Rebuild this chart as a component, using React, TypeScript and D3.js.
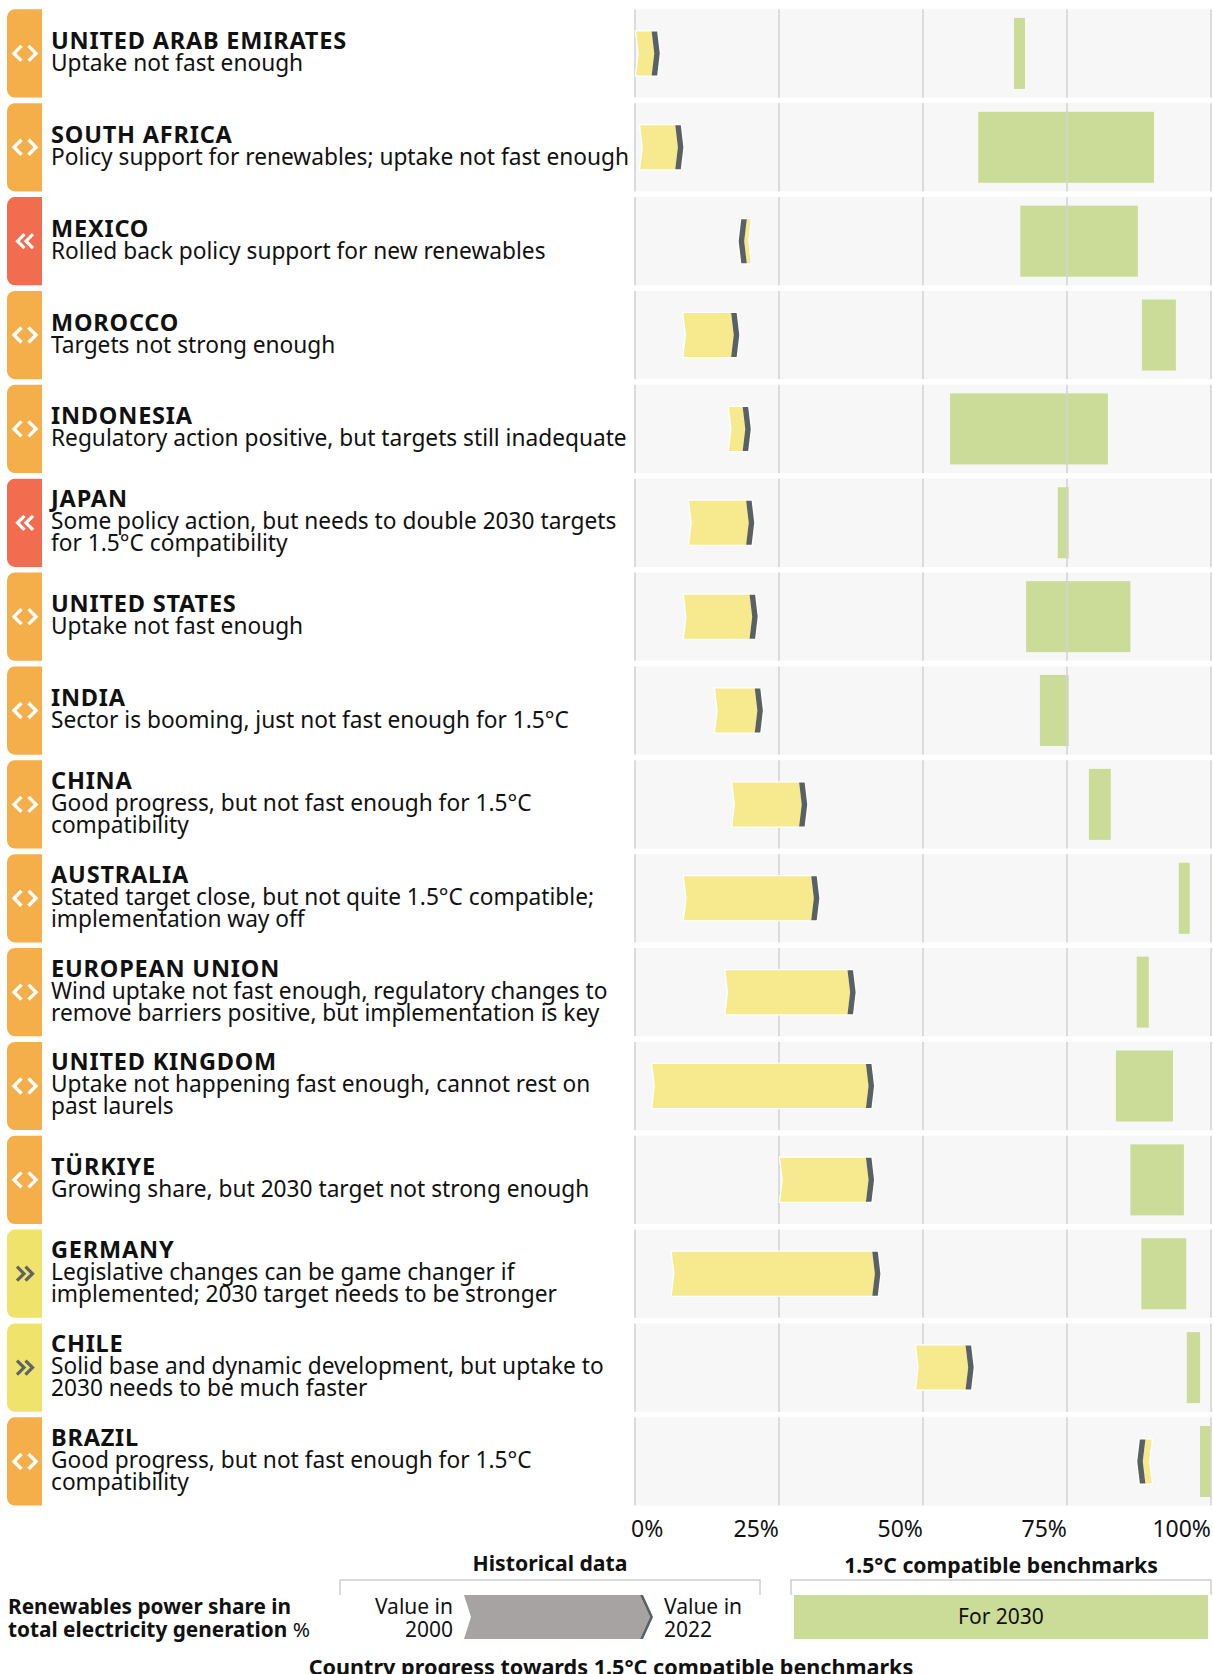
import React from 'react';
import * as d3 from 'd3';

const countries = [
  'UNITED ARAB EMIRATES', 'SOUTH AFRICA', 'MEXICO', 'MOROCCO', 'INDONESIA', 'JAPAN',
  'UNITED STATES', 'INDIA', 'CHINA', 'AUSTRALIA', 'EUROPEAN UNION', 'UNITED KINGDOM',
  'TÜRKIYE', 'GERMANY', 'CHILE', 'BRAZIL',
];

const descriptions = [
  ['Uptake not fast enough'],
  ['Policy support for renewables; uptake not fast enough'],
  ['Rolled back policy support for new renewables'],
  ['Targets not strong enough'],
  ['Regulatory action positive, but targets still inadequate'],
  ['Some policy action, but needs to double 2030 targets', 'for 1.5°C compatibility'],
  ['Uptake not fast enough'],
  ['Sector is booming, just not fast enough for 1.5°C'],
  ['Good progress, but not fast enough for 1.5°C', 'compatibility'],
  ['Stated target close, but not quite 1.5°C compatible;', 'implementation way off'],
  ['Wind uptake not fast enough, regulatory changes to', 'remove barriers positive, but implementation is key'],
  ['Uptake not happening fast enough, cannot rest on', 'past laurels'],
  ['Growing share, but 2030 target not strong enough'],
  ['Legislative changes can be game changer if', 'implemented; 2030 target needs to be stronger'],
  ['Solid base and dynamic development, but uptake to', '2030 needs to be much faster'],
  ['Good progress, but not fast enough for 1.5°C', 'compatibility'],
];

// 'steady' = <>, 'backward' = «, 'forward' = »
const statuses = [
  'steady', 'steady', 'backward', 'steady', 'steady', 'backward',
  'steady', 'steady', 'steady', 'steady', 'steady', 'steady',
  'steady', 'forward', 'forward', 'steady',
];

const share2000 = [0.2, 0.9, 20.1, 8.4, 16.3, 9.4, 8.5, 13.9, 16.9, 8.5, 15.7, 3.0, 25.2, 6.4, 48.8, 89.7];
const share2022 = [4.3, 8.4, 18.0, 18.1, 20.1, 20.7, 21.3, 22.2, 29.9, 32.0, 38.3, 41.5, 41.5, 42.6, 58.8, 87.2];
const bench2030Low = [65.8, 59.6, 66.9, 88.0, 54.7, 73.4, 67.9, 70.3, 78.8, 94.4, 87.1, 83.5, 86.0, 87.9, 95.8, 98.1];
const bench2030High = [67.7, 90.1, 87.3, 93.9, 82.1, 75.3, 86.0, 75.3, 82.6, 96.3, 89.2, 93.4, 95.3, 95.7, 98.1, 100];

const tickValues = [0, 25, 50, 75, 100];
const tickLabels = ['0%', '25%', '50%', '75%', '100%'];

const FONT = '"Noto Sans", "Open Sans", sans-serif';
const COLORS = {
  steady: '#f4ae4a',
  backward: '#f26c4f',
  forward: '#efe36b',
  bar: '#f7e98e',
  band: '#596165',
  bench: '#cbdb98',
  plotBg: '#f7f7f7',
  grid: '#d4d4d4',
  legendGrey: '#a8a3a3',
};

const W = 1213;
const H = 1674;

function arrowPaths(x0: number, x1: number, top: number, bot: number, d: number, w: number) {
  const s = x1 >= x0 ? 1 : -1;
  const mid = (top + bot) / 2;
  const outline = [
    [x0, top], [x1 - s * d, top], [x1, mid], [x1 - s * d, bot], [x0, bot], [x0 + s * d, mid],
  ];
  const body = [
    [x0, top], [x1 - s * (d + w), top], [x1 - s * w, mid], [x1 - s * (d + w), bot], [x0, bot], [x0 + s * d, mid],
  ];
  const band = [
    [x1 - s * (d + w), top], [x1 - s * d, top], [x1, mid], [x1 - s * d, bot], [x1 - s * (d + w), bot], [x1 - s * w, mid],
  ];
  const toPath = (pts: number[][]) => 'M' + pts.map((p) => p.join(',')).join('L') + 'Z';
  return { outline: toPath(outline), body: toPath(body), band: toPath(band) };
}

function badgePath(x0: number, x1: number, top: number, bot: number, r: number) {
  return `M${x1},${top}H${x0 + r}A${r},${r} 0 0 0 ${x0},${top + r}V${bot - r}A${r},${r} 0 0 0 ${x0 + r},${bot}H${x1}Z`;
}

function StatusIcon({ status, cx, cy }: { status: string; cx: number; cy: number }) {
  const h = 7.5;
  if (status === 'steady') {
    return (
      <g fill="none" stroke="#fff" strokeWidth={3.4} strokeLinejoin="miter">
        <path d={`M${cx - 3.5},${cy - h}L${cx - 11},${cy}L${cx - 3.5},${cy + h}`} />
        <path d={`M${cx + 3.5},${cy - h}L${cx + 11},${cy}L${cx + 3.5},${cy + h}`} />
      </g>
    );
  }
  if (status === 'backward') {
    return (
      <g fill="none" stroke="#fff" strokeWidth={3.2} strokeLinejoin="miter">
        <path d={`M${cx - 0.5},${cy - 7}L${cx - 7.5},${cy}L${cx - 0.5},${cy + 7}`} />
        <path d={`M${cx + 8},${cy - 7}L${cx + 1},${cy}L${cx + 8},${cy + 7}`} />
      </g>
    );
  }
  return (
    <g fill="none" stroke="#5d6468" strokeWidth={3.2} strokeLinejoin="miter">
      <path d={`M${cx - 8},${cy - 7}L${cx - 1},${cy}L${cx - 8},${cy + 7}`} />
      <path d={`M${cx + 0.5},${cy - 7}L${cx + 7.5},${cy}L${cx + 0.5},${cy + 7}`} />
    </g>
  );
}

export default function App() {
  const x = d3.scaleLinear().domain([0, 100]).range([635, 1211]);
  const y = d3.scaleBand<string>().domain(countries).range([9.3, 1505.6]).paddingInner(0.06);
  const bw = y.bandwidth();
  const barH = 44;
  const benchH = 71;

  return (
    <div style={{ position: 'absolute', left: 0, top: 0 }}>
      <svg width={W} height={H} viewBox={`0 0 ${W} ${H}`} style={{ display: 'block', fontFamily: FONT }}>
        <rect x={0} y={0} width={W} height={H} fill="#fff" />
        {countries.map((c, i) => {
          const top = y(c) as number;
          const bot = top + bw;
          const cy = top + bw / 2;
          const lines = descriptions[i];
          const n = lines.length + 1;
          const firstBase = top + 50.6 - (n - 1) * 11;
          const st = statuses[i];
          const arrow = arrowPaths(x(share2000[i]), x(share2022[i]), cy - barH / 2, cy + barH / 2, 2.6, 5.5);
          return (
            <g key={c}>
              <path d={badgePath(7, 42, top, bot, 8)} fill={COLORS[st as 'steady']} />
              <StatusIcon status={st} cx={25} cy={cy} />
              <text x={51} y={firstBase} fontSize={23.5} fontWeight={700} letterSpacing={0.8} fill="#111">
                {c}
              </text>
              {lines.map((ln, j) => (
                <text key={j} x={51} y={firstBase + 22 * (j + 1)} fontSize={22.7} fill="#111">
                  {ln}
                </text>
              ))}
              <rect x={x(0)} y={top} width={x(100) - x(0)} height={bw} fill={COLORS.plotBg} />
              <rect
                x={x(bench2030Low[i])}
                y={cy - benchH / 2}
                width={x(bench2030High[i]) - x(bench2030Low[i])}
                height={benchH}
                fill={COLORS.bench}
              />
              {tickValues.map((t) => (
                <line key={t} x1={x(t)} x2={x(t)} y1={top} y2={bot} stroke={COLORS.grid} strokeWidth={1.6} />
              ))}
              <path d={arrow.outline} fill="#fff" stroke="#fff" strokeWidth={2.5} strokeLinejoin="miter" />
              <path d={arrow.body} fill={COLORS.bar} />
              <path d={arrow.band} fill={COLORS.band} />
            </g>
          );
        })}

        {/* axis tick labels */}
        {tickValues.map((t, i) => (
          <text
            key={t}
            x={i === 0 ? x(t) - 4 : x(t)}
            y={1537}
            fontSize={23}
            textAnchor={i === 0 ? 'start' : 'end'}
            fill="#111"
          >
            {tickLabels[i]}
          </text>
        ))}

        {/* legend */}
        <text x={550} y={1571} fontSize={21.2} fontWeight={700} textAnchor="middle" fill="#111">Historical data</text>
        <text x={1001} y={1573} fontSize={21.2} fontWeight={700} textAnchor="middle" fill="#111">1.5°C compatible benchmarks</text>
        <path d="M340,1595V1580H760V1595" fill="none" stroke="#cfcfcf" strokeWidth={1.5} />
        <path d="M791,1595V1580H1211V1595" fill="none" stroke="#cfcfcf" strokeWidth={1.5} />

        <text x={8} y={1614} fontSize={20.8} fontWeight={700} fill="#111">Renewables power share in</text>
        <text x={8} y={1637} fontSize={20.8} fill="#111">
          <tspan fontWeight={700}>total electricity generation</tspan>{'  '}%
        </text>

        <text x={453} y={1614} fontSize={21} textAnchor="end" fill="#111">Value in</text>
        <text x={453} y={1637} fontSize={21} textAnchor="end" fill="#111">2000</text>
        {(() => {
          const top = 1595;
          const bot = 1639;
          const mid = (top + bot) / 2;
          const x0 = 464;
          const x1 = 653;
          const body = `M${x0},${top}L${x1 - 13},${top}L${x1 - 3},${mid}L${x1 - 13},${bot}L${x0},${bot}L${x0 + 7},${mid}Z`;
          const band = `M${x1 - 13},${top}L${x1 - 10},${top}L${x1},${mid}L${x1 - 10},${bot}L${x1 - 13},${bot}L${x1 - 3},${mid}Z`;
          return (
            <g>
              <path d={body} fill={COLORS.legendGrey} />
              <path d={band} fill={COLORS.band} />
            </g>
          );
        })()}
        <text x={664} y={1614} fontSize={21} fill="#111">Value in</text>
        <text x={664} y={1637} fontSize={21} fill="#111">2022</text>

        <rect x={794} y={1595} width={414} height={44} fill={COLORS.bench} />
        <text x={1001} y={1624} fontSize={21} textAnchor="middle" fill="#111">For 2030</text>

        <text x={611} y={1675} fontSize={21.6} fontWeight={700} textAnchor="middle" fill="#111">
          Country progress towards 1.5°C compatible benchmarks
        </text>
      </svg>
    </div>
  );
}
